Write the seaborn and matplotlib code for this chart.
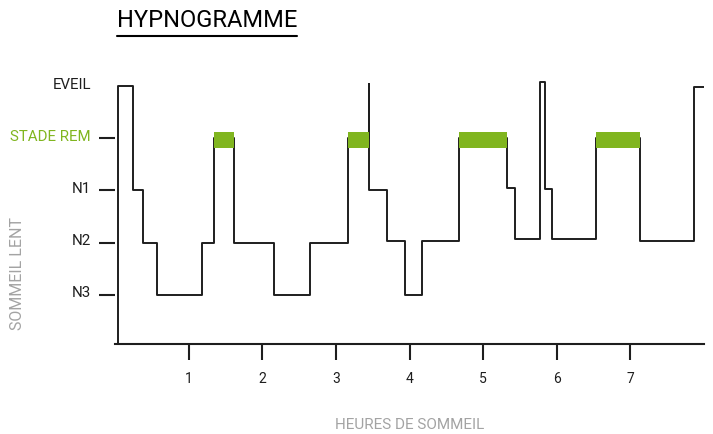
import matplotlib
matplotlib.use("Agg")
import matplotlib.pyplot as plt
import matplotlib.transforms as mtransforms
from matplotlib.lines import Line2D
import seaborn as sns
import pandas as pd

# DONNÉES

heures = [0.0, 0.033, 0.245, 0.372, 0.567, 1.182, 1.345, 1.609, 2.160, 2.645,
          3.166, 3.454, 3.454, 3.696, 3.940, 4.163, 4.670, 5.322, 5.427, 5.774,
          5.842, 5.929, 6.527, 7.130, 7.867, 8.035]
niveau = [0, 5, 3, 2, 1, 2, 4, 2, 1, 2,
          4, 5.05, 3, 2.03, 0.99, 2.03, 4, 3.05, 2.06, 5.07,
          3.03, 2.07, 4, 2.03, 4.99, 4.99]

stades_pos = [1, 2, 3, 4, 5]
stades_lbl = ["N3", "N2", "N1", "STADE REM", "EVEIL"]
heures_ticks = [1, 2, 3, 4, 5, 6, 7]

VERT = "#80b51f"
GRIS = "#a3a3a3"
NOIR = "#1e1e1e"

# STYLE

sns.set_theme(style="white")
plt.rcParams["font.family"] = ["Roboto", "DejaVu Sans"]

fig = plt.figure(figsize=(7.13, 4.35), dpi=100)
ax = fig.add_axes([115.3 / 713, 1 - 345 / 435, (704 - 115.3) / 713, (345 - 60) / 435])

df = pd.DataFrame({"heure": heures, "niveau": niveau})
sns.lineplot(data=df, x="heure", y="niveau", sort=False, estimator=None,
             drawstyle="steps-post", color=NOIR, linewidth=1.4, ax=ax, zorder=2)

# blocs du sommeil paradoxal (REM)
for i, v in enumerate(niveau[:-1]):
    if v == 4:
        ax.fill_between([heures[i], heures[i + 1]], 3.81, 4.12,
                        color=VERT, linewidth=0, zorder=3)

ax.set_xlim(0, 8)
ax.set_ylim(0.054, 5.52)

for s in ["top", "right", "left"]:
    ax.spines[s].set_visible(False)
ax.spines["bottom"].set_color(NOIR)
ax.spines["bottom"].set_linewidth(1.5)

ax.set_xticks(heures_ticks)
ax.set_xticklabels([str(h) for h in heures_ticks])
ax.set_yticks(stades_pos)
ax.set_yticklabels(stades_lbl)
ax.tick_params(axis="x", direction="out", length=11.5, width=1.5, color=NOIR,
               pad=8, labelsize=10, labelcolor=NOIR, bottom=True)
ax.tick_params(axis="y", direction="out", length=11.5, width=1.5, color=NOIR,
               pad=6, labelsize=10.8, labelcolor=NOIR, left=True)
ax.yaxis.get_major_ticks()[-1].tick1line.set_visible(False)
ax.get_yticklabels()[3].set_color(VERT)

decal = mtransforms.ScaledTranslation(0, 0.04, fig.dpi_scale_trans)
for lab in ax.get_yticklabels():
    lab.set_transform(lab.get_transform() + decal)

ax.set_xlabel("HEURES DE SOMMEIL", color=GRIS, fontsize=11)
ax.xaxis.set_label_coords(0.5, -0.256)
ax.set_ylabel("")
fig.text(18 / 713, 1 - 274 / 435, "SOMMEIL LENT", rotation=90, color=GRIS,
         fontsize=11.5, ha="center", va="center")

titre = fig.text(117 / 713, 1 - 26.7 / 435, "HYPNOGRAMME", fontsize=17,
                 color="black", ha="left", va="baseline")
fig.canvas.draw()
bb = titre.get_window_extent()
fig.add_artist(Line2D([bb.x0 / 713, bb.x1 / 713], [1 - 36.7 / 435] * 2,
                      transform=fig.transFigure, color="black", linewidth=1.5))

fig.savefig("out.png", dpi=100)
